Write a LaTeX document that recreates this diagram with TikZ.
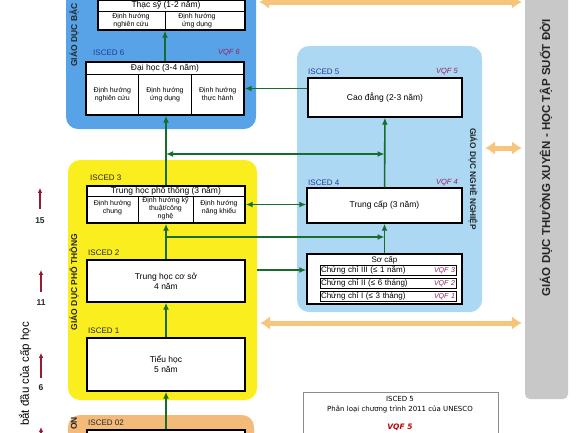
\documentclass[tikz,border=0pt]{standalone}
\usepackage{fontspec}
\setmainfont{Liberation Sans}
\newfontfamily\legendfont{DejaVu Sans}
\usetikzlibrary{arrows.meta,positioning}

\definecolor{bachoc}{RGB}{88,163,232}
\definecolor{nghe}{RGB}{172,216,244}
\definecolor{phothong}{RGB}{250,238,30}
\definecolor{mamnon}{RGB}{244,186,122}
\definecolor{suotdoi}{RGB}{200,200,200}
\definecolor{camarrow}{RGB}{246,196,122}
\definecolor{xanhla}{RGB}{24,108,44}
\definecolor{dotuoi}{RGB}{150,28,48}
\definecolor{vqfred}{RGB}{150,30,90}
\definecolor{iscedblue}{RGB}{30,60,150}

\newcommand\fsz[2]{\fontsize{#1}{#2}\selectfont}

\tikzset{
  khoi/.style={rounded corners=12pt, inner sep=0pt},
  prog/.style={draw, line width=1.4pt, fill=white, inner sep=0pt},
  tieude/.style={inner sep=0pt, font=\fsz{8.5}{10}, align=center},
  huong/.style={inner sep=0pt, font=\fsz{7}{8}, align=center},
  isced/.style={anchor=west, inner sep=0pt, font=\fsz{8}{9}, text=black!85},
  vqf/.style={anchor=east, inner sep=0pt, font=\fsz{7.5}{9}\itshape, text=vqfred},
  nhan/.style={inner sep=0pt, font=\fsz{8.5}{9}\bfseries, text=black!85},
  chungchi/.style={draw, line width=0.6pt, inner sep=1pt, text width=134pt,
    minimum height=10pt, align=left, font=\fsz{8}{9}},
  flow/.style={draw=xanhla, line width=1.6pt, -{Latex[length=7pt,width=6pt]}},
  flow2/.style={flow, {Latex[length=7pt,width=6pt]}-{Latex[length=7pt,width=6pt]}},
  lienthong/.style={draw=camarrow, line width=5pt,
    {Latex[length=10pt,width=14pt]}-{Latex[length=10pt,width=14pt]},
    shorten <=3pt, shorten >=3pt},
  tuoi/.style={draw=dotuoi, line width=1.5pt, -{Latex[length=5pt,width=4.5pt]}},
  tuoinum/.style={inner sep=0pt, font=\fsz{8.5}{9}\bfseries, text=black!85}
}

\begin{document}
\begin{tikzpicture}[x=1pt, y=-1pt]
  \useasboundingbox (0,0) rectangle (585,432);
  \clip (0,0) rectangle (585,432);

  % Coloured blocks of the system
  \node[khoi, fill=bachoc, minimum width=190pt, minimum height=150pt] (kbachoc) at (161,54) {};
  \node[khoi, fill=phothong, minimum width=189pt, minimum height=240pt] (kphothong) at (162.5,280) {};
  \node[khoi, fill=mamnon, minimum width=186pt, minimum height=70pt] (kmamnon) at (161,450) {};
  \node[khoi, fill=nghe, minimum width=185pt, minimum height=266pt] (knghe) at (389.5,179) {};
  \node[khoi, rounded corners=5pt, fill=suotdoi, minimum width=43pt, minimum height=420pt] (ksuotdoi) at (546.5,189) {};

  \node[nhan, rotate=90, anchor=west] (lbachoc) at (74,67) {GIÁO DỤC BẬC};
  \node[nhan, rotate=90] (lphothong) at (74,282) {GIÁO DỤC PHỔ THÔNG};
  \node[nhan, rotate=90, anchor=east] (lmamnon) at (74,417) {ON};
  \node[nhan, rotate=-90, font=\fsz{8.3}{9}\bfseries] (lnghe) at (473,179) {GIÁO DỤC NGHỀ NGHIỆP};
  \node[nhan, rotate=90, font=\fsz{11.5}{12}\bfseries] (lsuotdoi) at (546,158)
    {GIÁO DỤC THƯỜNG XUYÊN - HỌC TẬP SUỐT ĐỜI};

  % Thac sy
  \node[prog, minimum width=147pt, minimum height=30pt] (thacsy) at (171.5,15) {};
  \draw[line width=0.8pt] (98,11) -- (245,11) (165,11) -- (165,30);
  \node[tieude] (thacsy-t) at (166,5.5) {Thạc sỹ (1-2 năm)};
  \node[huong] (thacsy-1) at (131,20.5) {Định hướng\\nghiên cứu};
  \node[huong] (thacsy-2) at (197,20.5) {Định hướng\\ứng dụng};

  % Dai hoc
  \node[isced, text=iscedblue] (isced6) at (93,53) {ISCED 6};
  \node[vqf] (vqf6) at (240,53) {VQF 6};
  \node[prog, minimum width=158pt, minimum height=53pt] (daihoc) at (165,88.5) {};
  \draw[line width=0.8pt] (86,74) -- (244,74) (138.7,74) -- (138.7,115) (191.3,74) -- (191.3,115);
  \node[tieude] (daihoc-t) at (165,68) {Đại học (3-4 năm)};
  \node[huong] (daihoc-1) at (112.3,94.5) {Định hướng\\nghiên cứu};
  \node[huong] (daihoc-2) at (165,94.5) {Định hướng\\ứng dụng};
  \node[huong] (daihoc-3) at (217.7,94.5) {Định hướng\\thực hành};

  % Trung hoc pho thong
  \node[isced] (isced3) at (90,178) {ISCED 3};
  \node[prog, minimum width=158pt, minimum height=37pt] (thpt) at (166,204.5) {};
  \draw[line width=0.8pt] (87,196) -- (245,196) (138,196) -- (138,223) (193,196) -- (193,223);
  \node[tieude] (thpt-t) at (166,191) {Trung học phổ thông (3 năm)};
  \node[huong] (thpt-1) at (112.5,207.5) {Định hướng\\chung};
  \node[huong] (thpt-2) at (165.5,209) {Định hướng kỹ\\thuật/công\\nghệ};
  \node[huong] (thpt-3) at (219,207.5) {Định hướng\\năng khiếu};

  % Trung hoc co so, Tieu hoc, Mam non
  \node[isced] (isced2) at (88,253) {ISCED 2};
  \node[prog, tieude, minimum width=158pt, minimum height=42pt] (thcs) at (166,281) {Trung học cơ sở\\4 năm};
  \node[isced] (isced1) at (88,331) {ISCED 1};
  \node[prog, tieude, minimum width=158pt, minimum height=53pt] (tieuhoc) at (166,364.5) {Tiểu học\\5 năm};
  \node[isced] (isced02) at (88,423) {ISCED 02};
  \node[prog, minimum width=158pt, minimum height=40pt] (mamnon) at (166,450) {};

  % Giao duc nghe nghiep
  \node[isced, text=iscedblue] (isced5) at (308,72) {ISCED 5};
  \node[vqf] (vqf5) at (458,72) {VQF 5};
  \node[prog, tieude, minimum width=154pt, minimum height=39pt] (caodang) at (385,97.5) {Cao đẳng (2-3 năm)};
  \node[isced, text=iscedblue] (isced4) at (308,183) {ISCED 4};
  \node[vqf] (vqf4) at (458,183) {VQF 4};
  \node[prog, tieude, minimum width=155pt, minimum height=35pt] (trungcap) at (384.5,205.5) {Trung cấp (3 năm)};
  \node[prog, minimum width=155pt, minimum height=50pt] (socap) at (384.5,279) {};
  \node[tieude, font=\fsz{8}{9}] (socap-t) at (384.5,260) {Sơ cấp};
  \node[chungchi] (cc3) at (388,270) {Chứng chỉ III (≤ 1 năm)\hfill\textcolor{vqfred}{\fsz{7}{8}\itshape VQF 3}};
  \node[chungchi] (cc2) at (388,283) {Chứng chỉ II (≤ 6 tháng)\hfill\textcolor{vqfred}{\fsz{7}{8}\itshape VQF 2}};
  \node[chungchi] (cc1) at (388,296) {Chứng chỉ I (≤ 3 tháng)\hfill\textcolor{vqfred}{\fsz{7}{8}\itshape VQF 1}};

  % Green paths
  \draw[flow] (mamnon) -- (tieuhoc);
  \draw[flow] (tieuhoc) -- (thcs);
  \draw[flow] (thcs) -- (thpt);
  \draw[flow] (thpt.north) -- (thpt.north |- daihoc.south);
  \draw[flow] (daihoc.north) -- (daihoc.north |- thacsy.south);
  \draw[flow] (caodang.west |- daihoc.east) -- (daihoc.east);
  \draw[flow] (socap) -- (trungcap);
  \draw[flow] (trungcap) -- (caodang);
  \draw[flow2] (thpt.north |- 0,154) -- (trungcap.north |- 0,154);
  \draw[flow2] (thpt.east) -- (thpt.east -| trungcap.west);
  \draw[flow] (thcs.north |- 0,237) -- (socap.north |- 0,237);
  \draw[flow] (kphothong.east |- 0,270) -- (socap.west |- 0,270);

  % Links to lifelong learning
  \draw[lienthong] (kbachoc.east |- 0,2) -- (ksuotdoi.west |- 0,2);
  \draw[lienthong] (knghe.east |- 0,148) -- (ksuotdoi.west |- 0,148);
  \draw[lienthong] (kphothong.east |- 0,323) -- (ksuotdoi.west |- 0,323);

  % Starting ages
  \node[rotate=90, anchor=east, inner sep=0pt, font=\fsz{11.5}{12}] (caphoc) at (25,322) {bắt đầu của cấp học};
  \node[tuoinum] (t15) at (40,221) {15};
  \draw[tuoi] ([yshift=9pt]t15.north) -- ++(0,-21);
  \node[tuoinum] (t11) at (41,303) {11};
  \draw[tuoi] ([yshift=8pt]t11.north) -- ++(0,-22);
  \node[tuoinum] (t6) at (41,388) {6};
  \draw[tuoi] ([yshift=7pt]t6.north) -- ++(0,-25);
  \coordinate (t3) at (41,452);
  \draw[tuoi] (t3) -- ++(0,-25);

  % Legend
  \node[draw=black!45, line width=0.6pt, minimum width=195pt, minimum height=70pt] (chuthich) at (400.5,427) {};
  \node[inner sep=0pt, font=\legendfont\fsz{7}{8}] (ct-1) at (400,399) {ISCED 5};
  \node[inner sep=0pt, font=\legendfont\fsz{7}{8}] (ct-2) at (400,409) {Phân loại chương trình 2011 của UNESCO};
  \node[inner sep=0pt, font=\legendfont\fsz{7.5}{8}\bfseries\itshape, text=red!75!black] (ct-3) at (400,427) {VQF 5};
\end{tikzpicture}
\end{document}
